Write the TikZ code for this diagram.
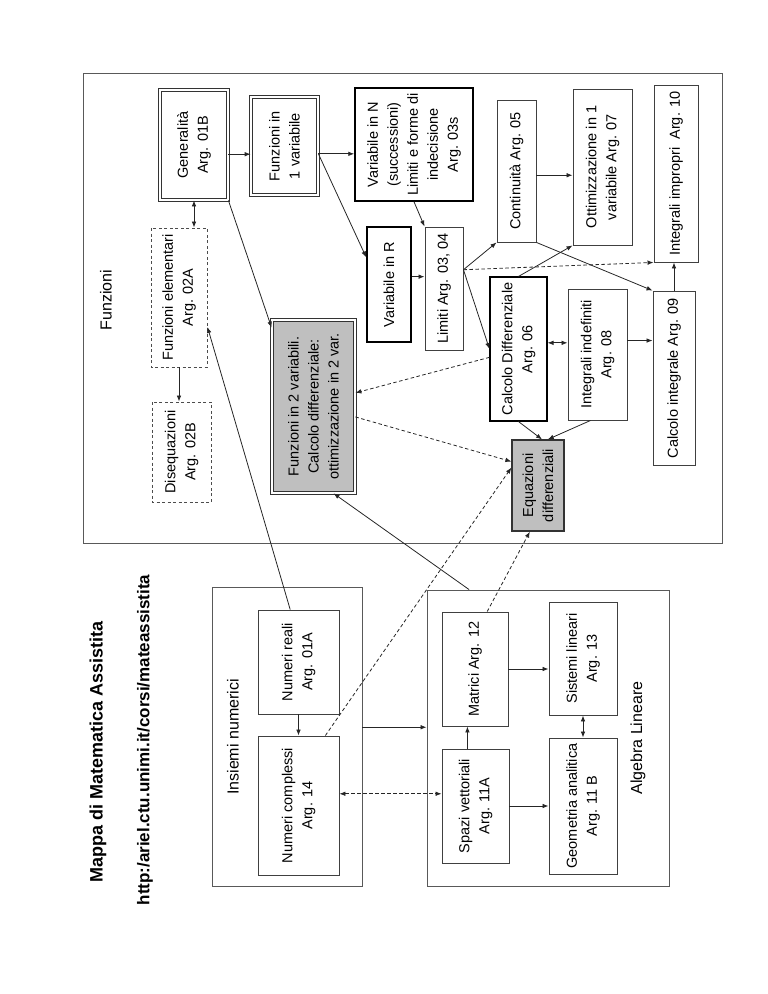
\documentclass[tikz,border=0pt]{standalone}
\usepackage{fontspec}
\setmainfont{Liberation Sans}
\usetikzlibrary{arrows.meta}

\tikzset{
  arr/.tip={Latex[length=6pt,width=4.6pt]},
  wh/.style 2 args={minimum width=#1pt, minimum height=#2pt},
  argbox/.style={rectangle, draw=black!75, line width=0.9pt, rotate=90,
    align=center, inner sep=0pt, fill=white, font=\fontsize{14.5}{20}\selectfont},
  thkbox/.style={argbox, draw=black, line width=1.5pt},
  dblbox/.style={argbox, draw=black!80, line width=0.8pt, double, double distance=1.6pt},
  dshbox/.style={argbox, draw=black!70, dash pattern=on 3pt off 2.5pt},
  grybox/.style={dblbox, double=white, fill=black!25},
  eqbox/.style={argbox, draw=black!80, line width=1.2pt, fill=black!25},
  frame/.style={rectangle, draw=black!65, line width=0.9pt, inner sep=0pt},
  framelab/.style={rotate=90, font=\fontsize{16}{20}\selectfont},
  dsh/.style={dash pattern=on 3.5pt off 2.5pt}
}

\begin{document}
\begin{tikzpicture}[x=1pt,y=-1pt]
      \useasboundingbox (0,0) rectangle (768,994);

      \node[frame, wh={639}{470}] (funz) at (402.5,308)   {};
      \node[frame, wh={150}{299}] (ins)  at (287,736.5)   {};
      \node[frame, wh={242}{296}] (alg)  at (548,738)     {};

      \node[rotate=90, font=\bfseries\fontsize{18}{20}\selectfont] (title) at (98,752)
        {Mappa di Matematica Assistita};
      \node[rotate=90, font=\bfseries\fontsize{17}{20}\selectfont] (url) at (145,740)
        {http:/ariel.ctu.unimi.it/corsi/mateassistita};
      \node[framelab] (funzlab) at (106,300) {Funzioni};
      \node[framelab] (inslab)  at (233,737) {Insiemi numerici};
      \node[framelab] (alglab)  at (638,738) {Algebra Lineare};

      \node[dblbox, wh={110}{68}]  (gen)    at (194,145)     {Generalità\\Arg. 01B};
      \node[dblbox, wh={98}{67}]   (f1v)    at (284.5,146)   {Funzioni in\\1 variabile};
      \node[thkbox, wh={113}{118}] (varN)   at (414,144.5)   {Variabile in N\\(successioni)\\Limiti e forme di\\indecisione\\Arg. 03s};
      \node[dshbox, wh={139}{56}]  (fel)    at (179,297.5)   {Funzioni elementari\\Arg. 02A};
      \node[dshbox, wh={100}{59}]  (diseq)  at (181.5,452)   {Disequazioni\\Arg. 02B};
      \node[thkbox, wh={115}{44}]  (varR)   at (389,284.5)   {Variabile in R};
      \node[grybox, wh={173}{83}]  (f2v)    at (313.5,406.5) {Funzioni in 2 variabili.\\Calcolo differenziale:\\ottimizzazione in 2 var.};
      \node[argbox, wh={123}{38}]  (lim)    at (444,288.5)   {Limiti Arg. 03, 04};
      \node[argbox, wh={142}{39}]  (cont)   at (516.5,171)   {Continuità Arg. 05};
      \node[argbox, wh={156}{59}]  (ott)    at (602.5,167)   {Ottimizzazione in 1\\variabile Arg. 07};
      \node[argbox, wh={177}{44}]  (impr)   at (676,173.5)   {Integrali impropri\ \ Arg. 10};
      \node[thkbox, line width=1.1pt, wh={144}{57}] (cdiff) at (518.5,349) {Calcolo Differenziale\\Arg. 06};
      \node[argbox, wh={131}{59}]  (indef)  at (597.5,354.5) {Integrali indefiniti\\Arg. 08};
      \node[argbox, wh={174}{42}]  (cint)   at (674,378)     {Calcolo integrale Arg. 09};
      \node[eqbox, wh={91}{52}]    (eqd)    at (538,485.5)   {Equazioni\\differenziali};
      \node[argbox, wh={104}{81}]  (nreali) at (298.5,662)   {Numeri reali\\Arg. 01A};
      \node[argbox, wh={139}{81}]  (ncompl) at (298.5,805.5) {Numeri complessi\\Arg. 14};
      \node[argbox, wh={114}{66}]  (matr)   at (475,669)     {Matrici Arg. 12};
      \node[argbox, wh={113}{68}]  (sist)   at (583,658.5)   {Sistemi lineari\\Arg. 13};
      \node[argbox, wh={114}{67}]  (spazi)  at (475.5,806)   {Spazi vettoriali\\Arg. 11A};
      \node[argbox, wh={136}{68}]  (geom)   at (583,806)     {Geometria analitica\\Arg. 11 B};

      \begin{scope}[every edge/.style={draw, black!85, line width=0.8pt, -arr}]
        \path (gen.west)        edge[arr-arr] (gen.west |- fel.east);
        \path (fel.west)        edge (fel.west |- diseq.east);
        \path (gen.-105)        edge (gen.-105 -| f1v.north);
        \path (f1v.-103)        edge (f1v.-103 -| varN.north);
        \path (f1v.-103)        edge (varR.40);
        \path (gen.south west)  edge (f2v.28);
        \path (varN.west)       edge (lim.north east);
        \path (varR.-71)        edge (varR.-71 -| lim.north);
        \path (lim.-46)         edge (cont.north west);
        \path (lim.-46)         edge (cdiff.north);
        \path (lim.-46)         edge[dsh] (impr.north west);
        \path (cont.-102)       edge (cont.-102 -| ott.north);
        \path (cont.south west) edge (cint.north east);
        \path (cdiff.east)      edge (ott.north west);
        \path (cdiff.-78)       edge[arr-arr] (cdiff.-78 -| indef.north);
        \path (indef.-65)       edge (indef.-65 -| cint.north);
        \path (cint.east)       edge (cint.east |- impr.west);
        \path (cdiff.106)       edge[dsh] (f2v.-72);
        \path (f2v.-104)        edge[dsh] (eqd.48);
        \path (cdiff.west)      edge (eqd.-5);
        \path (indef.174)       edge (eqd.-12);
        \path (ncompl.-21)      edge[dsh] (eqd.56);
        \path (matr.-12)        edge[dsh] (eqd.170);
        \path (alg.118)         edge (f2v.-167);
        \path (nreali.9)        edge (fel.-136);
        \path (nreali.west)     edge (nreali.west |- ncompl.east);
        \path (ins.7)           edge (ins.7 -| alg.west);
        \path (ncompl.-74)      edge[arr-arr, dsh] (ncompl.-74 -| spazi.north);
        \path (spazi.8)         edge (spazi.8 |- matr.west);
        \path (matr.south)      edge (matr.south -| sist.north);
        \path (spazi.south)     edge (spazi.south -| geom.north);
        \path (sist.west)       edge[arr-arr] (sist.west |- geom.east);
      \end{scope}

\end{tikzpicture}
\end{document}
